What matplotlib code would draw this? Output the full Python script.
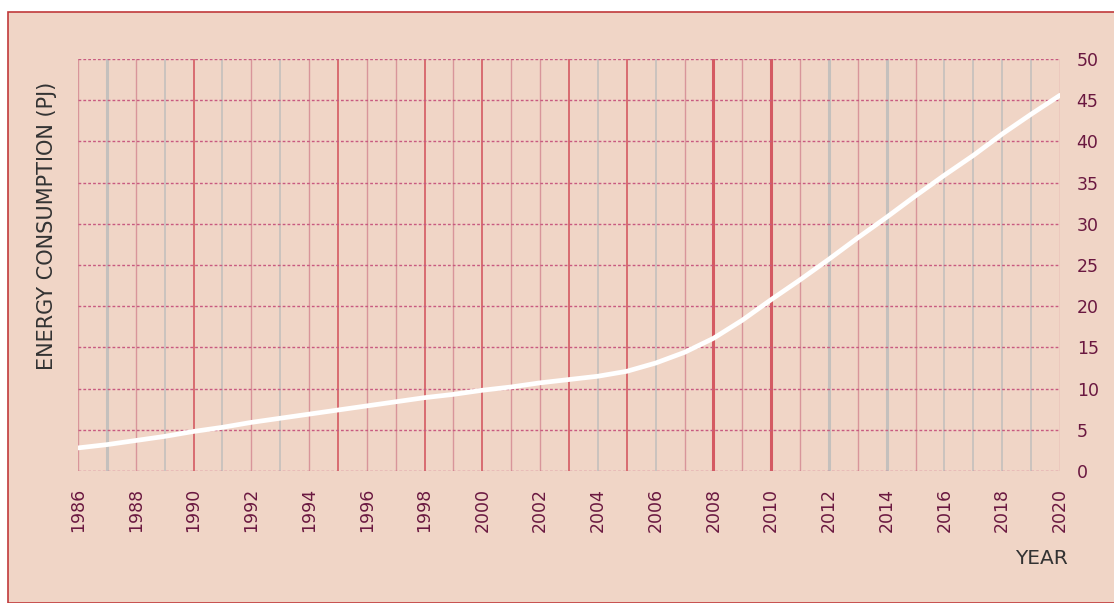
import matplotlib
matplotlib.use('Agg')
import matplotlib.pyplot as plt
from matplotlib.patches import Rectangle

# values
years = list(range(1986, 2021))
energy_pj = [2.8, 3.2, 3.7, 4.2, 4.8, 5.3, 5.9, 6.4, 6.9, 7.4,
             7.9, 8.4, 8.9, 9.3, 9.8, 10.2, 10.7, 11.1, 11.5, 12.1,
             13.1, 14.4, 16.1, 18.3, 20.8, 23.2, 25.7, 28.3, 30.8, 33.4,
             35.9, 38.3, 40.9, 43.3, 45.6]
year_ticks = list(range(1986, 2021, 2))
y_ticks = list(range(0, 51, 5))

# kind of vertical grid line for each year: r=red, l=light red, g=grey, R=thick red, G=thick grey
grid_kind = "lGlgrglglrllrlrllrgrglRlRlGlGlggggl"

BG = '#f0d5c6'
styles = {
    'r': ('#d45a62', 1.2),
    'R': ('#d45a62', 2.2),
    'l': ('#d8959a', 1.0),
    'g': ('#c4c0bd', 1.2),
    'G': ('#c4c0bd', 2.2),
}

fig = plt.figure(figsize=(11.14, 6.03), dpi=100, facecolor='white')
W, H = 1114, 603
# outer frame, behind everything
fig.patches.append(Rectangle((8 / W, 0), 1.2, 1 - 12 / H, transform=fig.transFigure,
                             facecolor=BG, edgecolor='#c0393b', linewidth=1.2, zorder=-10))

ax = fig.add_axes([78 / W, 1 - 471 / H, (1060 - 78) / W, (471 - 59) / H])
ax.set_zorder(1)
ax.patch.set_visible(False)

for yr, k in zip(years, grid_kind):
    c, lw = styles[k]
    ax.axvline(yr, color=c, linewidth=lw, zorder=1)
for v in y_ticks:
    ax.axhline(v, color='#c85a80', linewidth=1.0, linestyle=(0, (2, 1.5)), zorder=2)

ax.plot(years, energy_pj, color='white', linewidth=3.4, solid_capstyle='round', zorder=3)

ax.set_xlim(1986, 2020)
ax.set_ylim(0, 50)
for s in ax.spines.values():
    s.set_visible(False)

ax.yaxis.tick_right()
ax.set_yticks(y_ticks)
ax.set_yticklabels([str(v) for v in y_ticks], fontsize=12.5, color='#6a1840')
ax.set_xticks(year_ticks)
ax.set_xticklabels([str(v) for v in year_ticks], rotation=90, fontsize=12.5, color='#6a1840')
ax.tick_params(axis='x', length=0, pad=12)
ax.tick_params(axis='y', length=0, pad=12)

fig.text(47 / W, 1 - 226 / H, 'ENERGY CONSUMPTION (PJ)', rotation=90, ha='center', va='center',
         fontsize=15, color='#333333')
fig.text(1068 / W, 1 - 558 / H, 'YEAR', ha='right', va='center', fontsize=14.5, color='#333333')

fig.savefig('out.png', dpi=100, facecolor='white')
